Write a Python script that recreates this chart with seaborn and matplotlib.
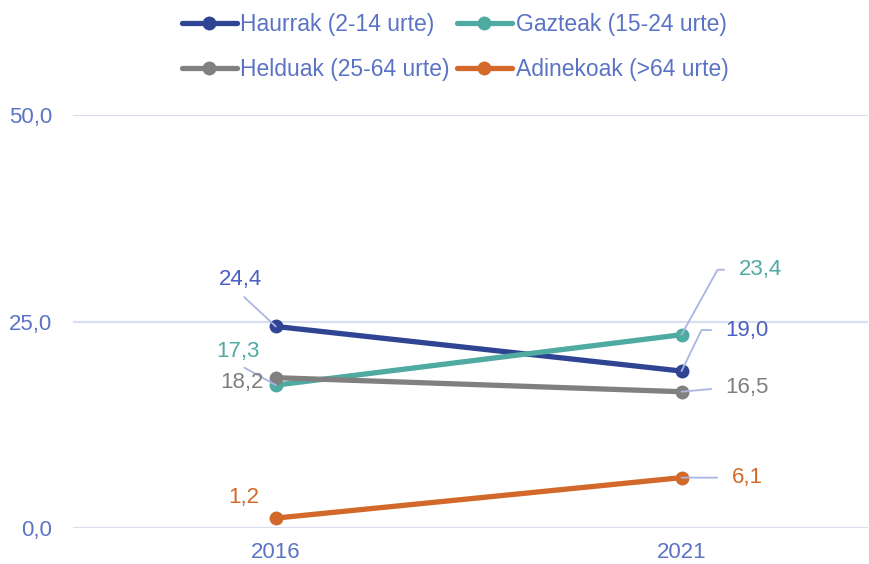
import pandas as pd
import seaborn as sns
import matplotlib.pyplot as plt
from matplotlib.lines import Line2D
from matplotlib.ticker import FuncFormatter

years = ['2016', '2021']
groups = ['Haurrak (2-14 urte)', 'Gazteak (15-24 urte)',
          'Helduak (25-64 urte)', 'Adinekoak (>64 urte)']
haurrak = [24.4, 19.0]
gazteak = [17.3, 23.4]
helduak = [18.2, 16.5]
adinekoak = [1.2, 6.1]

colors = ['#2f4594', '#4faaa2', '#808080', '#d2692b']
label_colors = ['#4a5fc0', '#4faaa2', '#7f7f7f', '#d2692b']
axis_color = '#5b73c4'
leader_color = '#aab5e3'

df = pd.DataFrame({
    'year': years * 4,
    'group': [g for g in groups for _ in years],
    'value': haurrak + gazteak + helduak + adinekoak,
})

sns.set_theme(style='white')
plt.rcParams['font.family'] = ['Liberation Sans', 'DejaVu Sans']

fig = plt.figure(figsize=(8.69, 5.64), dpi=100)
ax = fig.add_axes([0.084, 0.0638, 0.915, 0.7323])

sns.lineplot(data=df, x='year', y='value', hue='group', hue_order=groups,
             palette=colors, marker='o', markersize=10, markeredgewidth=0,
             linewidth=3.8, ax=ax, legend=False, clip_on=False, zorder=3)

ax.set_ylim(0, 50)
ax.set_xlim(-0.5, 1.46)
ax.set_yticks([0, 25, 50])
ax.yaxis.set_major_formatter(FuncFormatter(lambda v, p: f'{v:.1f}'.replace('.', ',')))
ax.grid(axis='y', color='#dadef2', linewidth=1.6)
ax.grid(axis='x', visible=False)
for s in ax.spines.values():
    s.set_visible(False)
ax.tick_params(axis='both', length=0, labelsize=16, labelcolor=axis_color)
ax.tick_params(axis='y', pad=15)
ax.tick_params(axis='x', pad=10)
ax.set_xlabel('')
ax.set_ylabel('')

# value labels with leader lines (offsets in pixels)
series = [haurrak, gazteak, helduak, adinekoak]
offsets = [
    [(-35, 47, 'center', None), (44, 41, 'left', 64)],
    [(-38, 34, 'center', None), (57, 65, 'left', 61)],
    [(-12, -5, 'right', 'none'), (44, 4, 'left', None)],
    [(-32, 21, 'center', 'none'), (50, 0, 'left', None)],
]
for vals, offs, lc in zip(series, offsets, label_colors):
    for yr, v, (dx, dy, ha, ang) in zip(years, vals, offs):
        txt = f'{v:.1f}'.replace('.', ',')
        if ang == 'none':
            ax.annotate(txt, xy=(yr, v), xytext=(dx, dy), textcoords='offset pixels',
                        ha=ha, va='center', fontsize=16, color=lc, zorder=5)
            continue
        if ha == 'center':
            relpos = (0.4, 0.0)
            cs = 'arc3'
            shA = 4
        else:
            relpos = (0.0, 0.5)
            cs = 'arc3' if ang is None else f'angle,angleA=0,angleB={ang},rad=0'
            shA = 8
        ax.annotate(txt, xy=(yr, v), xytext=(dx, dy), textcoords='offset pixels',
                    ha=ha, va='center', fontsize=16, color=lc, zorder=5,
                    arrowprops=dict(arrowstyle='-', color=leader_color, lw=1.3,
                                    relpos=relpos, connectionstyle=cs,
                                    shrinkA=shA, shrinkB=0))

# legend filled row by row like the reference
handles = [Line2D([], [], color=c, linewidth=3.8, marker='o', markersize=10,
                  markeredgewidth=0) for c in colors]
order = [0, 2, 1, 3]
fig.legend([handles[i] for i in order], [groups[i] for i in order],
           loc='center', bbox_to_anchor=(455 / 869, 1 - 47 / 564),
           ncol=2, frameon=False, fontsize=16.5, handlelength=2.4, handletextpad=0.17,
           columnspacing=0.3, labelspacing=0.92, labelcolor=axis_color)

fig.savefig('out.png', dpi=100)
